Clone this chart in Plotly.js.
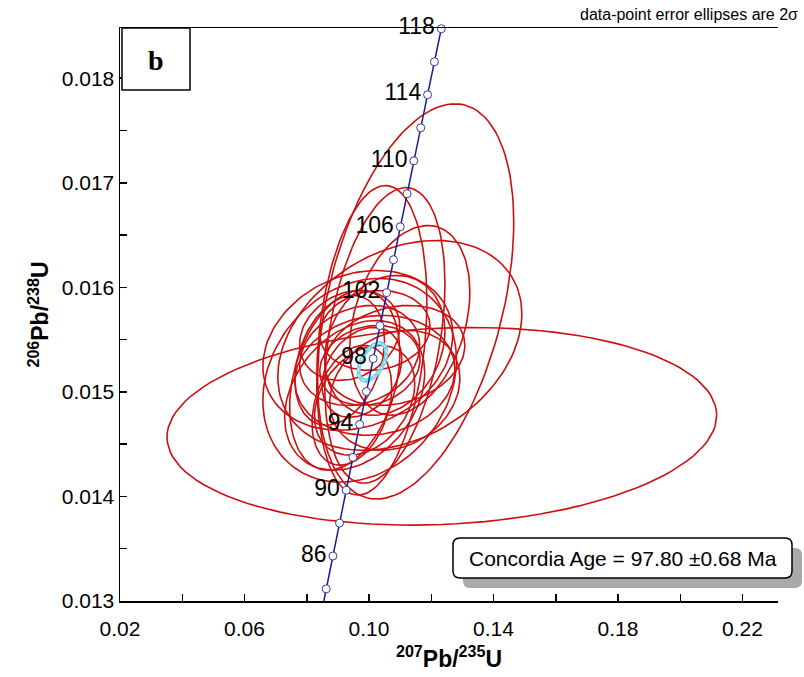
<!DOCTYPE html>
<html><head><meta charset="utf-8">
<script src="https://cdn.plot.ly/plotly-3.0.1.min.js"></script>
<style>html,body{margin:0;padding:0;background:#fff}#chart{width:804px;height:677px}</style>
</head><body><div id="chart"></div>
<script>
// Concordia curve ticks (age in Ma) and their coordinates
const concAges = [84,86,88,90,92,94,96,98,100,102,104,106,108,110,112,114,116,118];
const concX = [0.08625,0.08839,0.09053,0.09268,0.09484,0.09700,0.09916,0.10133,0.10350,0.10567,0.10785,0.11004,0.11223,0.11442,0.11662,0.11882,0.12102,0.12323];
const concY = [0.013116,0.013430,0.013745,0.014059,0.014374,0.014689,0.015003,0.015318,0.015633,0.015949,0.016264,0.016579,0.016895,0.017210,0.017526,0.017842,0.018157,0.018473];
const concStart = [0.08549, 0.01300];   // where the curve leaves the x axis
const labelAges = [86,90,94,98,102,106,110,114,118];

// Data-point error ellipses (2 sigma): centre, half-widths and correlation
const ellX   = [0.1234,0.1150,0.1009,0.1051,0.1099,0.0970,0.0964,0.1019,0.0970,0.0954,0.0922,0.1003,0.1051,0.0906,0.1083,0.0986,0.0938,0.1019,0.0977,0.0945,0.1083,0.1131];
const ellY   = [0.014671,0.015865,0.015493,0.015540,0.015445,0.015111,0.015397,0.015158,0.015349,0.014967,0.015111,0.015254,0.015445,0.015302,0.015015,0.014920,0.015540,0.015588,0.015187,0.014872,0.015349,0.015684];
const ellSX  = [0.0883,0.0315,0.0177,0.0193,0.0392,0.0311,0.0305,0.0257,0.0193,0.0225,0.0177,0.0161,0.0193,0.0144,0.0209,0.0161,0.0161,0.0177,0.0128,0.0128,0.0225,0.0193];
const ellSY  = [0.000945,0.00189,0.00148,0.001413,0.001003,0.000974,0.000764,0.000573,0.000478,0.000716,0.00086,0.000382,0.000669,0.000621,0.000573,0.000525,0.00043,0.000382,0.00043,0.000573,0.000478,0.000907];
const ellRho = [0.11,0.40,0.25,0.35,0.30,0.20,0.20,0.10,0.20,0.30,0.30,0.15,0.20,0.30,0.20,0.30,0.20,0.10,0.30,0.30,0.20,0.30];

// Concordia age ellipse
const ageEll = {x:0.10111, y:0.015287, sx:0.0045, sy:0.000180, rho:0.5};
const ageText = 'Concordia Age = 97.80 \u00b10.68 Ma';

const xTicks = [0.02,0.06,0.10,0.14,0.18,0.22];
const xTickText = ['0.02','0.06','0.10','0.14','0.18','0.22'];
const yTicks = [0.013,0.014,0.015,0.016,0.017,0.018];
const yTickText = ['0.013','0.014','0.015','0.016','0.017','0.018'];

function ellipse(cx, cy, sx, sy, rho){
  const xs=[], ys=[], n=120, r2=Math.sqrt(1-rho*rho);
  for(let i=0;i<=n;i++){
    const t=2*Math.PI*i/n;
    xs.push(cx+sx*Math.cos(t));
    ys.push(cy+sy*(rho*Math.cos(t)+r2*Math.sin(t)));
  }
  return [xs, ys];
}

let ex=[], ey=[];
for(let i=0;i<ellX.length;i++){
  const [a,b]=ellipse(ellX[i],ellY[i],ellSX[i],ellSY[i],ellRho[i]);
  ex=ex.concat(a,[null]); ey=ey.concat(b,[null]);
}
const [ax, ay] = ellipse(ageEll.x, ageEll.y, ageEll.sx, ageEll.sy, ageEll.rho);

const lblX=[], lblY=[], lblT=[];
labelAges.forEach(a=>{const i=concAges.indexOf(a); lblX.push(concX[i]); lblY.push(concY[i]); lblT.push(String(a)+'\u00a0');});

// plot-area geometry in pixels (for paper-referenced decorations)
const M = {l:120, r:26, t:28, b:76}, W = 804, H = 677;
const PW = W - M.l - M.r, PH = H - M.t - M.b;
const px = v => (v - M.l) / PW;
const py = v => (H - M.b - v) / PH;
function roundRect(x0, y0, x1, y1, r){
  const rx = r / PW, ry = r / PH;
  const a = px(x0), b = px(x1), top = py(y0), bot = py(y1);
  return `M${a+rx},${top} L${b-rx},${top} Q${b},${top} ${b},${top-ry} L${b},${bot+ry} Q${b},${bot} ${b-rx},${bot} ` +
         `L${a+rx},${bot} Q${a},${bot} ${a},${bot+ry} L${a},${top-ry} Q${a},${top} ${a+rx},${top} Z`;
}

const font = 'Liberation Sans, Arial, sans-serif';
const traces = [
  {x:ex, y:ey, mode:'lines', line:{color:'#cc1010', width:1.6}, hoverinfo:'skip'},
  {x:ax, y:ay, mode:'lines', line:{color:'#6fd6ea', width:4}, hoverinfo:'skip'},
  {x:ax, y:ay, mode:'lines', line:{color:'#ffffff', width:1, dash:'dot'}, hoverinfo:'skip'},
  {x:[concStart[0]].concat(concX), y:[concStart[1]].concat(concY), mode:'lines', line:{color:'#1c1c8c', width:1.5}, hoverinfo:'skip'},
  {x:concX, y:concY, mode:'markers', cliponaxis:false, marker:{size:8, color:'#ffffff', line:{color:'#3a3a9a', width:1}}, hoverinfo:'skip'},
  {x:lblX, y:lblY, mode:'text', text:lblT, textposition:'middle left', cliponaxis:false, textfont:{family:font, size:23, color:'#000'}, hoverinfo:'skip'}
];

const axisCommon = {showgrid:false, zeroline:false, showline:true, linecolor:'#000', linewidth:1.5,
  ticks:'inside', ticklen:7, tickwidth:1.5, tickcolor:'#000', tickfont:{family:font, size:21, color:'#000'}};

const layout = {
  width:W, height:H, showlegend:false,
  paper_bgcolor:'#fff', plot_bgcolor:'#fff',
  margin:M,
  xaxis: Object.assign({}, axisCommon, {range:[0.02,0.2314], tickmode:'array', tickvals:xTicks, ticktext:xTickText, mirror:true,
    ticklabelstandoff:8,
    minor:{tickmode:'linear', tick0:0.02, dtick:0.02, ticks:'inside', ticklen:7, tickwidth:1.5, tickcolor:'#000', showgrid:false},
    title:{text:'<b><sup>207</sup>Pb/<sup>235</sup>U</b>', font:{family:font, size:23, color:'#000'}, standoff:12}}),
  yaxis: Object.assign({}, axisCommon, {range:[0.013,0.01848], tickmode:'array', tickvals:yTicks, ticktext:yTickText,
    minor:{tickmode:'linear', tick0:0.013, dtick:0.0005, ticks:'inside', ticklen:7, tickwidth:1.5, tickcolor:'#000', showgrid:false},
    title:{text:'<b><sup>206</sup>Pb/<sup>238</sup>U</b>', font:{family:font, size:23, color:'#000'}, standoff:6}}),
  shapes:[
    {type:'rect', xref:'paper', yref:'paper', x0:px(122), x1:px(190), y0:py(90), y1:1, line:{color:'#000', width:1.5}, fillcolor:'#fff', layer:'above'},
    {type:'path', xref:'paper', yref:'paper', path:roundRect(463,548,802,588,7), fillcolor:'#a9a9a9', line:{width:0}, layer:'above'},
    {type:'path', xref:'paper', yref:'paper', path:roundRect(453,538,792,578,7), fillcolor:'#ffffff', line:{color:'#000', width:1.5}, layer:'above'}
  ],
  annotations:[
    {xref:'paper', yref:'paper', x:px(156), y:py(60), xanchor:'center', yanchor:'middle', text:'<b>b</b>', showarrow:false, font:{family:'Liberation Serif, Times New Roman, serif', size:28, color:'#000'}},
    {xref:'paper', yref:'paper', x:px(800), y:py(14), xanchor:'right', yanchor:'middle', text:'data-point error ellipses are 2\u03c3', showarrow:false, font:{family:font, size:16, color:'#000'}},
    {xref:'paper', yref:'paper', x:px(622.5), y:py(558), xanchor:'center', yanchor:'middle', text:ageText, showarrow:false, font:{family:font, size:21, color:'#000'}}
  ]
};

Plotly.newPlot('chart', traces, layout, {displayModeBar:false, staticPlot:true});
</script></body></html>
